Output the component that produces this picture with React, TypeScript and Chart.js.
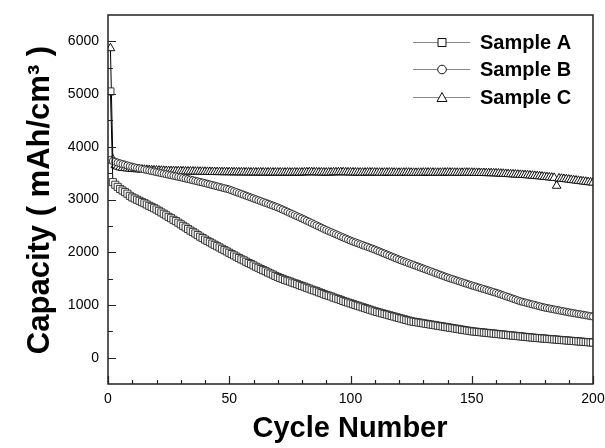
import React, { useEffect, useRef } from "react";
import { Chart, registerables } from "chart.js";

Chart.register(...registerables);

// Cycle numbers 1..200
const cycles: number[] = Array.from({ length: 200 }, (_, i) => i + 1);

const sampleA: number[] = [
  5050, 3330, 3280, 3240, 3200, 3170, 3140, 3110, 3070, 3040,
  3020, 2995, 2975, 2950, 2930, 2905, 2880, 2860, 2835, 2810,
  2785, 2755, 2730, 2700, 2670, 2645, 2615, 2590, 2560, 2530,
  2500, 2470, 2440, 2410, 2385, 2355, 2325, 2295, 2270, 2240,
  2215, 2190, 2165, 2140, 2115, 2090, 2065, 2040, 2015, 1990,
  1965, 1940, 1915, 1890, 1865, 1845, 1820, 1795, 1775, 1750,
  1725, 1705, 1680, 1660, 1640, 1615, 1595, 1575, 1550, 1530,
  1510, 1495, 1475, 1460, 1445, 1425, 1410, 1395, 1375, 1360,
  1345, 1325, 1310, 1290, 1275, 1260, 1240, 1225, 1205, 1190,
  1175, 1160, 1140, 1125, 1110, 1095, 1075, 1060, 1045, 1030,
  1015, 1000, 985, 970, 955, 940, 925, 910, 895, 880,
  867, 855, 842, 829, 817, 804, 791, 779, 766, 753,
  741, 728, 715, 703, 690, 682, 675, 667, 660, 652,
  644, 637, 629, 622, 614, 606, 599, 591, 584, 576,
  568, 561, 553, 546, 538, 530, 523, 515, 508, 500,
  495, 490, 486, 481, 476, 471, 466, 462, 457, 452,
  447, 442, 438, 433, 428, 423, 418, 414, 409, 404,
  399, 394, 390, 385, 380, 376, 372, 369, 365, 361,
  357, 353, 350, 346, 342, 338, 334, 331, 327, 323,
  319, 315, 312, 308, 304, 300, 296, 293, 289, 285,
];

const sampleB: number[] = [
  3750, 3730, 3715, 3700, 3685, 3672, 3660, 3646, 3633, 3620,
  3610, 3600, 3590, 3580, 3570, 3560, 3550, 3540, 3530, 3520,
  3510, 3500, 3490, 3480, 3470, 3460, 3450, 3440, 3430, 3420,
  3409, 3398, 3387, 3376, 3365, 3354, 3343, 3332, 3321, 3310,
  3298, 3286, 3274, 3262, 3250, 3238, 3226, 3214, 3202, 3190,
  3173, 3156, 3139, 3122, 3105, 3088, 3071, 3054, 3037, 3020,
  3003, 2986, 2969, 2952, 2935, 2918, 2901, 2884, 2867, 2850,
  2829, 2808, 2787, 2766, 2745, 2724, 2703, 2682, 2661, 2640,
  2618, 2596, 2574, 2552, 2530, 2508, 2486, 2464, 2442, 2420,
  2400, 2380, 2360, 2340, 2320, 2300, 2280, 2260, 2240, 2220,
  2203, 2186, 2169, 2152, 2135, 2118, 2101, 2084, 2067, 2050,
  2031, 2012, 1993, 1974, 1955, 1936, 1917, 1898, 1879, 1860,
  1843, 1826, 1809, 1792, 1775, 1758, 1741, 1724, 1707, 1690,
  1673, 1656, 1639, 1622, 1605, 1588, 1571, 1554, 1537, 1520,
  1505, 1490, 1475, 1460, 1445, 1430, 1415, 1400, 1385, 1370,
  1356, 1342, 1328, 1314, 1300, 1286, 1272, 1258, 1244, 1230,
  1214, 1198, 1182, 1166, 1150, 1134, 1118, 1102, 1086, 1070,
  1058, 1046, 1034, 1022, 1010, 998, 986, 974, 962, 950,
  941, 932, 923, 914, 905, 896, 887, 878, 869, 860,
  852, 844, 836, 828, 820, 812, 804, 796, 788, 780,
];

const sampleC: number[] = [
  5870, 3760, 3650, 3625, 3610, 3600, 3595, 3590, 3585, 3580,
  3577, 3574, 3571, 3568, 3565, 3562, 3559, 3556, 3553, 3550,
  3548, 3546, 3544, 3542, 3540, 3539, 3538, 3537, 3536, 3535,
  3534, 3533, 3532, 3531, 3530, 3529, 3528, 3527, 3526, 3525,
  3524, 3523, 3522, 3521, 3520, 3520, 3519, 3519, 3518, 3518,
  3517, 3517, 3516, 3516, 3515, 3515, 3514, 3514, 3513, 3513,
  3513, 3512, 3514, 3512, 3511, 3513, 3512, 3511, 3512, 3511,
  3512, 3510, 3511, 3513, 3511, 3510, 3512, 3511, 3510, 3512,
  3514, 3516, 3518, 3517, 3516, 3515, 3514, 3513, 3512, 3511,
  3512, 3513, 3515, 3516, 3517, 3518, 3517, 3516, 3515, 3514,
  3513, 3512, 3511, 3510, 3509, 3510, 3512, 3513, 3512, 3511,
  3510, 3509, 3508, 3509, 3510, 3511, 3510, 3509, 3508, 3507,
  3508, 3509, 3510, 3509, 3508, 3507, 3506, 3507, 3508, 3509,
  3510, 3511, 3510, 3509, 3508, 3507, 3508, 3509, 3510, 3511,
  3510, 3509, 3508, 3507, 3506, 3507, 3508, 3509, 3508, 3507,
  3506, 3505, 3504, 3503, 3502, 3501, 3500, 3499, 3498, 3496,
  3494, 3491, 3488, 3485, 3482, 3480, 3477, 3474, 3471, 3468,
  3466, 3463, 3460, 3456, 3452, 3448, 3444, 3440, 3435, 3430,
  3425, 3420, 3415, 3410, 3260, 3400, 3395, 3390, 3384, 3378,
  3372, 3366, 3360, 3354, 3348, 3342, 3336, 3330, 3325, 3320,
];

const seriesNames: string[] = ["Sample A", "Sample B", "Sample C"];
const pointStyles: string[] = ["rect", "circle", "triangle"];
const pointRadii: number[] = [5, 3.6, 5];
const xTicks: number[] = [0, 50, 100, 150, 200];
const yTicks: number[] = [0, 1000, 2000, 3000, 4000, 5000, 6000];
const xMinor: number = 10;
const yMinor: number = 500;
const xTitle = "Cycle Number";
const yTitle = "Capacity ( mAh/cm\u00B3 )";

const FONT = "'Liberation Sans', Arial, Helvetica, sans-serif";

function drawMarker(ctx: CanvasRenderingContext2D, style: string, x: number, y: number) {
  ctx.beginPath();
  if (style === "rect") {
    ctx.rect(x - 4, y - 4, 8, 8);
  } else if (style === "circle") {
    ctx.arc(x, y, 4.3, 0, Math.PI * 2);
  } else {
    ctx.moveTo(x, y - 5);
    ctx.lineTo(x + 5, y + 4);
    ctx.lineTo(x - 5, y + 4);
    ctx.closePath();
  }
  ctx.fill();
  ctx.stroke();
}

const framePlugin = {
  id: "frame",
  afterDraw(chart: any) {
    const { ctx, chartArea: a, scales } = chart;
    const xs = scales.x;
    const ys = scales.y;
    ctx.save();
    ctx.strokeStyle = "#222";
    ctx.lineWidth = 1.5;
    ctx.strokeRect(a.left, a.top, a.right - a.left, a.bottom - a.top);
    ctx.lineWidth = 1.2;
    ctx.beginPath();
    for (let v = xs.min; v <= xs.max + 1e-6; v += xMinor) {
      const px = Math.round(xs.getPixelForValue(v)) + 0.5;
      const major = xTicks.includes(v);
      const len = major ? 8 : 4;
      ctx.moveTo(px, a.bottom);
      ctx.lineTo(px, a.bottom - len);
    }
    for (let v = 0; v <= 6000 + 1e-6; v += yMinor) {
      const py = Math.round(ys.getPixelForValue(v)) + 0.5;
      const major = yTicks.includes(v);
      const len = major ? 8 : 5;
      ctx.moveTo(a.left, py);
      ctx.lineTo(a.left + len, py);
    }
    ctx.stroke();

    // axis titles
    ctx.fillStyle = "#000";
    ctx.font = `bold 29px ${FONT}`;
    ctx.textAlign = "center";
    ctx.textBaseline = "middle";
    ctx.fillText(xTitle, 350, 429);
    ctx.save();
    ctx.translate(40, 200);
    ctx.rotate(-Math.PI / 2);
    ctx.font = `bold 31px ${FONT}`;
    ctx.fillText(yTitle, 0, 0);
    ctx.restore();

    // legend
    const rows = [42, 69, 97];
    ctx.font = `bold 20px ${FONT}`;
    ctx.textAlign = "left";
    seriesNames.forEach((name, i) => {
      const y = rows[i];
      ctx.strokeStyle = "#888";
      ctx.lineWidth = 1;
      ctx.beginPath();
      ctx.moveTo(413, y + 0.5);
      ctx.lineTo(470, y + 0.5);
      ctx.stroke();
      ctx.fillStyle = "#fff";
      ctx.strokeStyle = "#111";
      ctx.lineWidth = 1;
      drawMarker(ctx, pointStyles[i], 442, y + 0.5);
      ctx.fillStyle = "#000";
      ctx.fillText(name, 480, y + 1);
    });
    ctx.restore();
  },
};

export default function App() {
  const ref = useRef<HTMLCanvasElement | null>(null);
  useEffect(() => {
    if (!ref.current) return;
    const datasets = [sampleA, sampleB, sampleC].map((arr, i) => ({
      label: seriesNames[i],
      data: arr.map((v, j) => ({ x: cycles[j], y: v })),
      borderColor: "#000",
      borderWidth: 1,
      pointStyle: pointStyles[i] as any,
      pointRadius: pointRadii[i],
      pointBorderWidth: i === 2 ? 1 : 0.9,
      pointBorderColor: i === 2 ? "#111" : "#222",
      pointBackgroundColor: "#fff",
      fill: false,
      tension: 0,
    }));
    const chart = new Chart(ref.current, {
      type: "line",
      data: { datasets },
      options: {
        animation: false,
        responsive: false,
        devicePixelRatio: 1,
        layout: { padding: { left: 0, right: 12, top: 15, bottom: 0 } },
        plugins: { legend: { display: false }, tooltip: { enabled: false } },
        scales: {
          x: {
            type: "linear",
            min: 0,
            max: 200,
            grid: { display: false, drawTicks: false },
            border: { display: false },
            afterBuildTicks: (s: any) => {
              s.ticks = xTicks.map((v) => ({ value: v }));
            },
            afterFit: (s: any) => {
              s.height = 64;
              s.paddingLeft = 0;
              s.paddingRight = 0;
            },
            ticks: {
              padding: 7,
              maxRotation: 0,
              color: "#000",
              font: { family: FONT, size: 14 },
              callback: (v: any) => String(v),
            },
          },
          y: {
            type: "linear",
            min: -500,
            max: 6500,
            grid: { display: false, drawTicks: false },
            border: { display: false },
            afterBuildTicks: (s: any) => {
              s.ticks = yTicks.map((v) => ({ value: v }));
            },
            afterFit: (s: any) => {
              s.width = 108;
              s.paddingTop = 0;
              s.paddingBottom = 0;
            },
            ticks: {
              padding: 9,
              color: "#000",
              font: { family: FONT, size: 14 },
              callback: (v: any) => String(v),
            },
          },
        },
      },
      plugins: [framePlugin],
    });
    return () => chart.destroy();
  }, []);
  return (
    <div style={{ position: "absolute", left: 0, top: 0, width: 605, height: 448, background: "#fff" }}>
      <canvas ref={ref} width={605} height={448} />
    </div>
  );
}
